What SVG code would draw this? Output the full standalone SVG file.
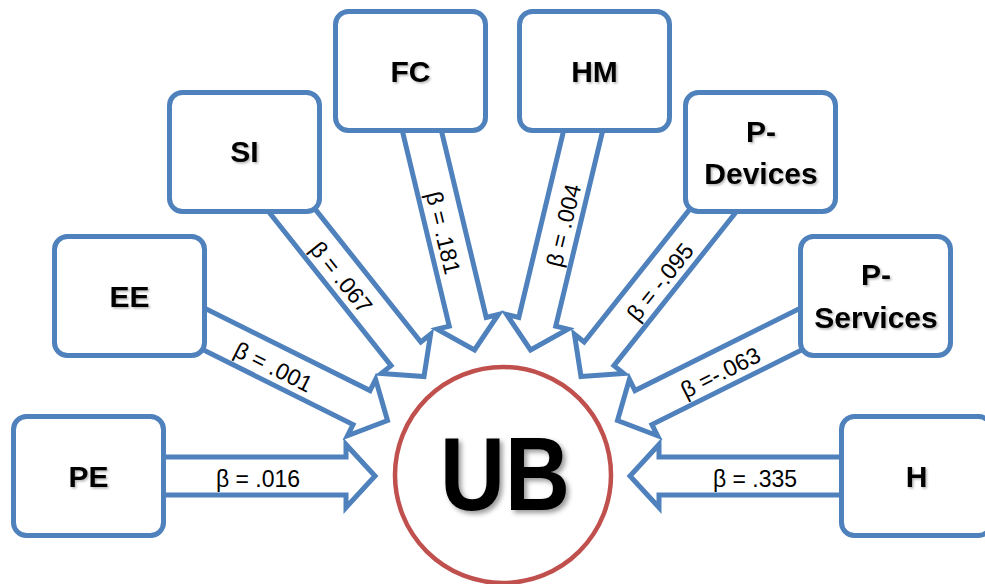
<svg xmlns="http://www.w3.org/2000/svg" width="985" height="584" viewBox="0 0 985 584">
  <style>
    .box { fill: #ffffff; stroke: #4F81BD; stroke-width: 5; }
    .arrow { fill: #ffffff; stroke: #4F81BD; stroke-width: 5; stroke-linejoin: miter; }
    .name { font-family: "Liberation Sans", Arial, sans-serif; font-weight: bold; font-size: 30px; text-anchor: middle; fill: #000000; filter: url(#softShadow); }
    .beta { font-family: "Liberation Sans", Arial, sans-serif; font-size: 23px; text-anchor: middle; fill: #000000; }
    .hub { fill: #ffffff; stroke: #C0504D; stroke-width: 4.5; }
    .hubText { font-family: "Liberation Sans", Arial, sans-serif; font-weight: bold; font-size: 104px; text-anchor: middle; fill: #000000; filter: url(#hubShadow); }
  </style>
  <defs>
    <filter id="softShadow" x="-20%" y="-20%" width="140%" height="140%">
      <feDropShadow dx="1.5" dy="1.5" stdDeviation="1" flood-color="#000000" flood-opacity="0.3"/>
    </filter>
    <filter id="hubShadow" x="-20%" y="-20%" width="140%" height="140%">
      <feDropShadow dx="3" dy="3" stdDeviation="2.5" flood-color="#000000" flood-opacity="0.4"/>
    </filter>
  </defs>

  <rect width="985" height="584" fill="#ffffff"/>

  <!-- block arrows pointing at UB, each with its path coefficient -->
  <g id="connectors">
    <path class="arrow" transform="translate(375 476)" d="M0 0 L-29 -31.5 L-29 -19 L-240 -19 L-240 19 L-29 19 L-29 31.5 Z"/>
    <path class="arrow" transform="translate(630 476) rotate(180)" d="M0 0 L-29 -31.5 L-29 -19 L-240 -19 L-240 19 L-29 19 L-29 31.5 Z"/>
    <path class="arrow" transform="translate(387.5 420.5) rotate(26.5)" d="M0 0 L-29 -31.5 L-29 -19 L-232 -19 L-232 19 L-29 19 L-29 31.5 Z"/>
    <path class="arrow" transform="translate(617.5 420.5) rotate(153.5)" d="M0 0 L-29 -31.5 L-29 -19 L-232 -19 L-232 19 L-29 19 L-29 31.5 Z"/>
    <path class="arrow" transform="translate(424 376.5) rotate(51.5)" d="M0 0 L-29 -31.5 L-29 -19 L-240 -19 L-240 19 L-29 19 L-29 31.5 Z"/>
    <path class="arrow" transform="translate(581 376.5) rotate(128.5)" d="M0 0 L-29 -31.5 L-29 -19 L-240 -19 L-240 19 L-29 19 L-29 31.5 Z"/>
    <path class="arrow" transform="translate(474.5 350) rotate(76.5)" d="M0 0 L-29 -31.5 L-29 -19 L-250 -19 L-250 19 L-29 19 L-29 31.5 Z"/>
    <path class="arrow" transform="translate(530.5 350) rotate(103.5)" d="M0 0 L-29 -31.5 L-29 -19 L-250 -19 L-250 19 L-29 19 L-29 31.5 Z"/>

    <text class="beta" transform="translate(258 476)" y="11">β = .016</text>
    <text class="beta" transform="translate(755 476)" y="11">β = .335</text>
    <text class="beta" transform="translate(274.8 364.3) rotate(26.5)" y="11">β = .001</text>
    <text class="beta" transform="translate(719.2 369.8) rotate(-26.5)" y="11">β =-.063</text>
    <text class="beta" transform="translate(343.6 275.5) rotate(51.5)" y="11">β = .067</text>
    <text class="beta" transform="translate(657.8 280) rotate(-51.5)" y="11">β = -.095</text>
    <text class="beta" transform="translate(446.2 232.2) rotate(76.5)" y="11">β = .181</text>
    <text class="beta" transform="translate(560.6 224.7) rotate(-76.5)" y="11">β = .004</text>
  </g>

  <!-- predictor boxes -->
  <g id="node-PE">
    <rect class="box" x="13.5" y="416.5" width="150" height="119" rx="13"/>
    <text class="name" x="88.5" y="487">PE</text>
  </g>
  <g id="node-EE">
    <rect class="box" x="54.5" y="236.5" width="150" height="119" rx="13"/>
    <text class="name" x="129.5" y="307">EE</text>
  </g>
  <g id="node-SI">
    <rect class="box" x="169.5" y="92.5" width="150" height="119" rx="13"/>
    <text class="name" x="244.5" y="162">SI</text>
  </g>
  <g id="node-FC">
    <rect class="box" x="335.5" y="11.5" width="150" height="119" rx="13"/>
    <text class="name" x="410.5" y="82">FC</text>
  </g>
  <g id="node-HM">
    <rect class="box" x="519.5" y="11.5" width="150" height="119" rx="13"/>
    <text class="name" x="594.5" y="82">HM</text>
  </g>
  <g id="node-PDevices">
    <rect class="box" x="685.5" y="92.5" width="150" height="119" rx="13"/>
    <text class="name" x="761" y="142">P-</text>
    <text class="name" x="761" y="184">Devices</text>
  </g>
  <g id="node-PServices">
    <rect class="box" x="800.5" y="236.5" width="150" height="119" rx="13"/>
    <text class="name" x="876" y="285">P-</text>
    <text class="name" x="876" y="328">Services</text>
  </g>
  <g id="node-H">
    <rect class="box" x="841.5" y="416.5" width="150" height="119" rx="13"/>
    <text class="name" x="916.5" y="487">H</text>
  </g>

  <!-- outcome -->
  <g id="node-UB">
    <circle class="hub" cx="503" cy="475" r="108"/>
    <text class="hubText" x="505" y="510" textLength="130" lengthAdjust="spacingAndGlyphs">UB</text>
  </g>
</svg>
